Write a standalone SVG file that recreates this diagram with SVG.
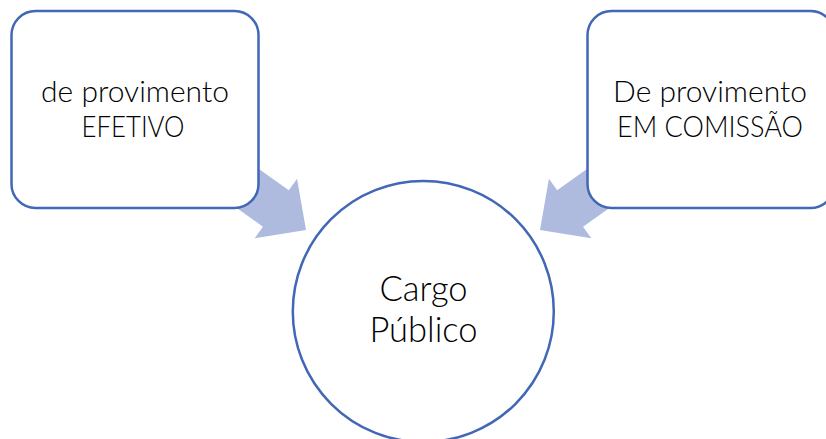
<svg xmlns="http://www.w3.org/2000/svg" width="826" height="439" viewBox="0 0 826 439">
  <defs>
    <style>
      .node { fill: #FFFFFF; stroke: #4167B6; stroke-width: 2.5; }
      .arrow { fill: #AEBBDF; stroke: none; }
      .lbl { font-family: Lato, "Open Sans", "Liberation Sans", sans-serif; font-weight: 300; fill: #000000; text-anchor: middle; }
      .box { font-size: 30px; }
      .big { font-size: 34.5px; }
    </style>
    <polygon id="blockArrow" points="0,0 -37,-36.5 -37,-22.3 -127,-22.3 -127,22.3 -37,22.3 -37,36.5"/>
  </defs>
  <rect width="826" height="439" fill="#FFFFFF"/>
  <g id="connectors">
    <use href="#blockArrow" class="arrow" transform="translate(306,230) rotate(35.5)"/>
    <use href="#blockArrow" class="arrow" transform="translate(540,230) rotate(144.5)"/>
  </g>
  <g id="node-efetivo">
    <rect class="node" x="11.5" y="11" width="247" height="197" rx="24" ry="24"/>
    <text class="lbl box" x="135" y="102">de provimento</text>
    <text class="lbl box" x="133" y="137" textLength="103" lengthAdjust="spacingAndGlyphs">EFETIVO</text>
  </g>
  <g id="node-comissao">
    <rect class="node" x="587.5" y="11" width="247" height="197" rx="24" ry="24"/>
    <text class="lbl box" x="710" y="102">De provimento</text>
    <text class="lbl box" x="710" y="137" textLength="186" lengthAdjust="spacingAndGlyphs">EM COMISSÃO</text>
  </g>
  <g id="node-cargo">
    <circle class="node" cx="423.3" cy="311.5" r="130.5"/>
    <text class="lbl big" x="423.5" y="301">Cargo</text>
    <text class="lbl big" x="423.5" y="342">Público</text>
  </g>
</svg>
